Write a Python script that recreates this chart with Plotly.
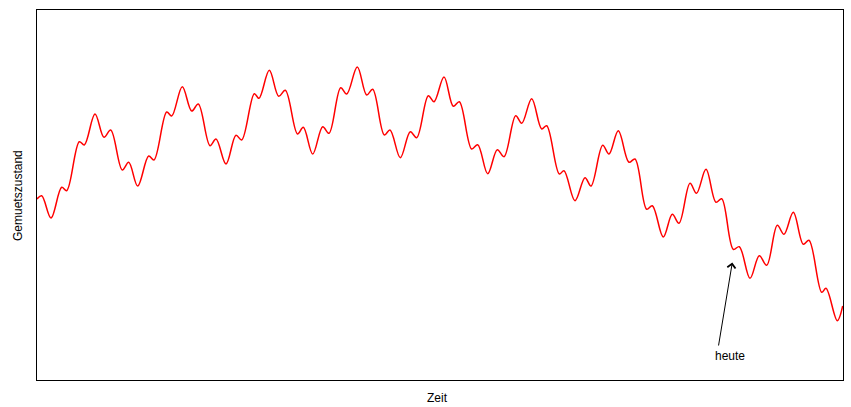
import plotly.graph_objects as go

# Extrema of the mood curve (time, mood)
zeit = [0, 4.7, 14, 24.7, 29.7, 42.3, 47.3, 58, 67, 73.7, 85.3, 91.7, 100.7, 111.7, 117,
        129.7, 134.7, 145.3, 154.7, 161.3, 173, 179, 189, 199, 204.7, 217.3, 222, 232.3,
        241.7, 248.3, 260.5, 266.3, 275.7, 285.7, 292, 303.7, 309.7, 320.3, 329.7, 335.7,
        347.3, 353, 363.3, 373.3, 379.7, 391.3, 397, 407, 416.3, 422.3, 434.7, 440.7,
        450.7, 460.3, 467, 478.7, 484.7, 494.7, 504.7, 509.7, 522.3, 527, 538, 548, 554,
        565.7, 572, 581.3, 592, 598, 609.7, 615.3, 626.3, 635.3, 642, 653, 659.5, 669,
        679, 684.7, 696.3, 702.3, 713, 722.3, 729.7, 740.3, 747, 756.3, 766.3, 772,
        784.7, 789, 800.3, 805.7]
gemuet = [181, 184.3, 162, 192.7, 189.3, 238.3, 235, 266, 242.7, 250, 210, 217.7, 194, 224,
          220, 268, 264, 293.3, 269, 276, 234.3, 241, 216, 244.7, 240, 286.3, 281.7, 309.7,
          283.7, 289.7, 246, 252.7, 226, 253.3, 246.7, 292.3, 286, 313, 285, 290.7, 245,
          250, 222.3, 248.3, 242.3, 284.3, 278.3, 303, 273.7, 278.3, 231, 235.3, 206.3,
          230.3, 223.3, 264.3, 256.7, 281.3, 251, 254.3, 206, 209.3, 179.3, 202.3, 194,
          234.7, 226, 249.3, 217.7, 221, 170.7, 174.3, 143, 165.7, 156.7, 196.7, 186.7,
          210.7, 177.7, 181.3, 130.7, 133.3, 101.7, 124.3, 114.7, 154.7, 145.7, 167.7,
          135.7, 139.7, 87.7, 91.7, 59.3, 74]

x_range = [0, 806]
y_range = [0, 370]

heute_tip = (695.3, 117.5)
heute_tail = (681.3, 33)
heute_text = (693, 24)

fig = go.Figure()
fig.add_trace(go.Scatter(x=zeit, y=gemuet, mode="lines",
                         line=dict(color="#FF0000", width=1.5, shape="spline", smoothing=1.0),
                         hoverinfo="skip", showlegend=False))

fig.add_annotation(x=heute_tip[0], y=heute_tip[1], ax=heute_tail[0], ay=heute_tail[1],
                   xref="x", yref="y", axref="x", ayref="y", text="", showarrow=True,
                   arrowhead=4, arrowsize=1.6, arrowwidth=1, arrowcolor="black")
fig.add_annotation(x=heute_text[0], y=heute_text[1], xref="x", yref="y", text="heute",
                   showarrow=False, xanchor="center", yanchor="middle",
                   font=dict(size=12, color="black"))

fig.add_annotation(x=-0.0236, y=0.5, xref="paper", yref="paper", text="Gemuetszustand",
                   textangle=-90, showarrow=False, xanchor="center", yanchor="middle",
                   font=dict(size=12, color="black"))
fig.add_annotation(x=0.4975, y=-0.0486, xref="paper", yref="paper", text="Zeit",
                   showarrow=False, xanchor="center", yanchor="middle",
                   font=dict(size=12, color="black"))

axis_common = dict(showgrid=False, zeroline=False, showticklabels=False, ticks="",
                   showline=True, mirror=True, linecolor="black", linewidth=1)
fig.update_xaxes(range=x_range, **axis_common)
fig.update_yaxes(range=y_range, **axis_common)

fig.update_layout(width=851, height=407, margin=dict(l=37, r=8, t=10, b=27),
                  plot_bgcolor="white", paper_bgcolor="white",
                  font=dict(family="Liberation Sans, Arial, sans-serif", size=12, color="black"))

fig.write_html("out.html", config={"displayModeBar": False},
               post_script="document.body.style.margin='0';document.body.style.overflow='hidden';")
